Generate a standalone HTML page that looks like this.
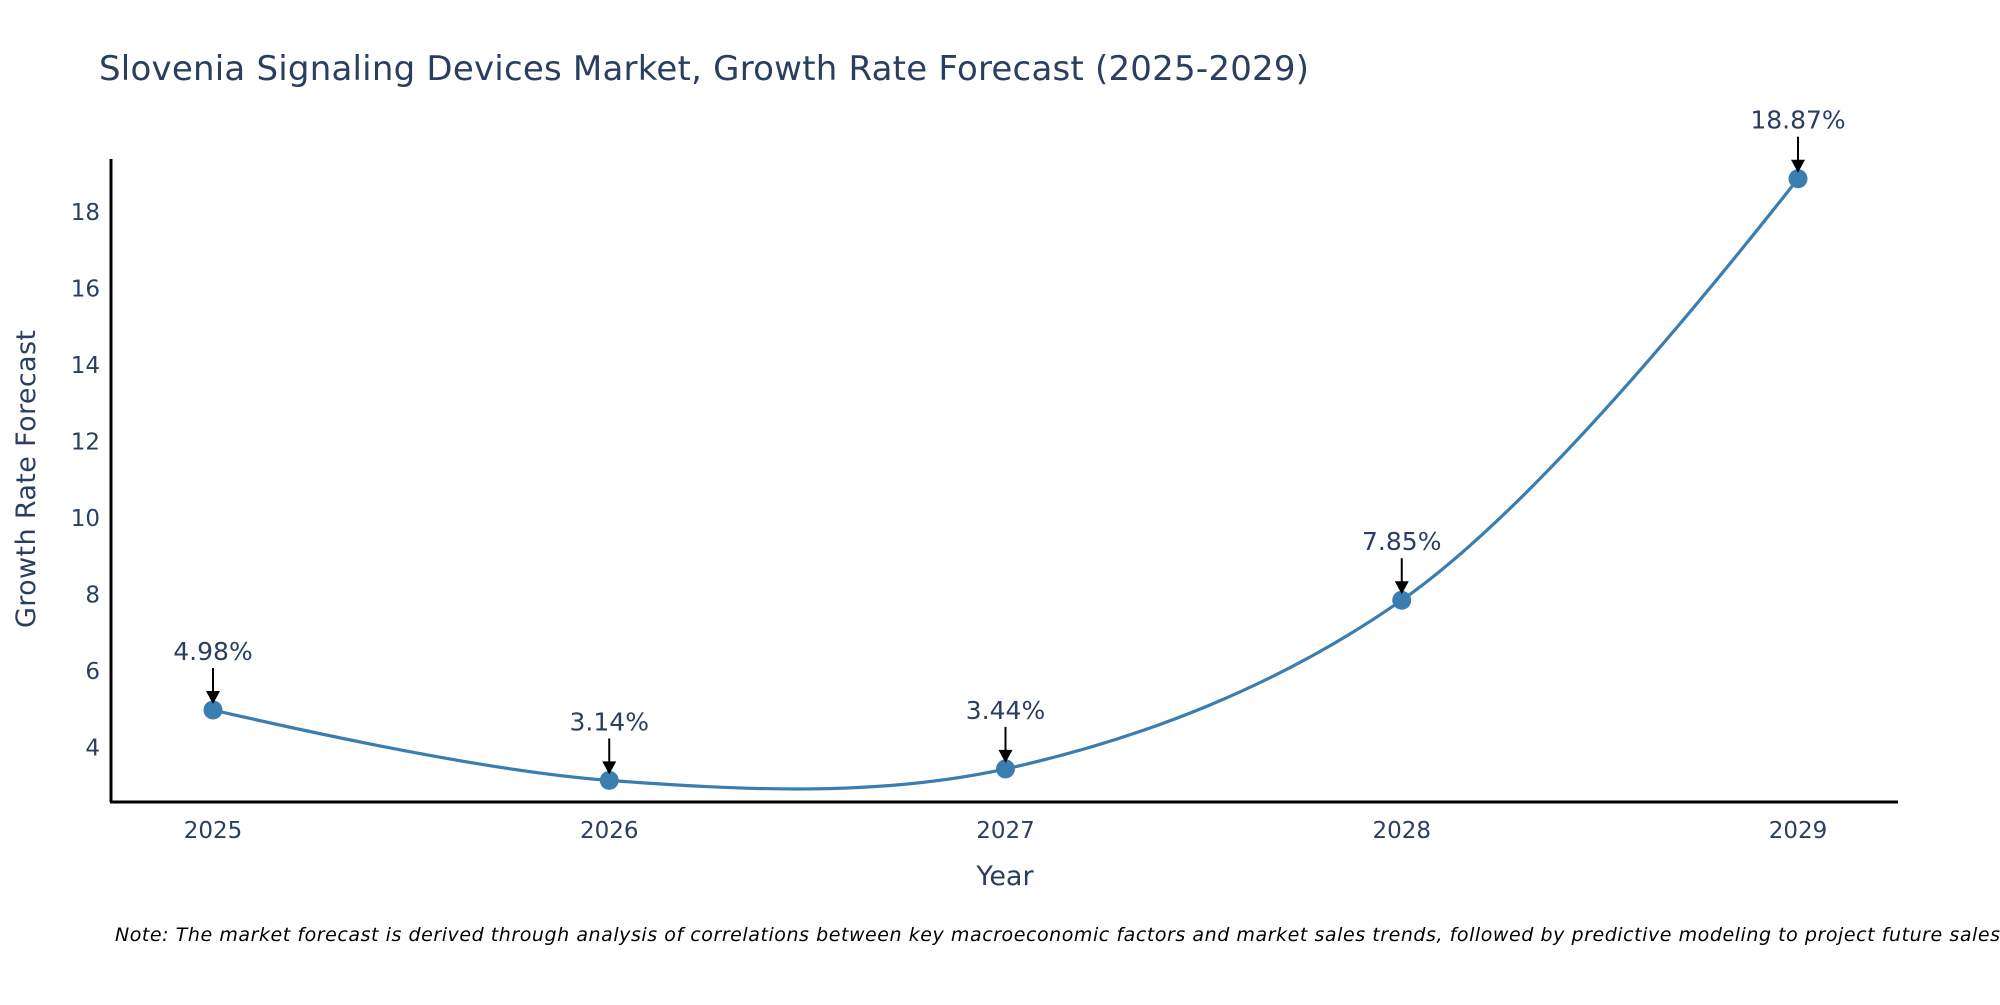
<!DOCTYPE html>
<html><head><meta charset="utf-8"><style>
body{margin:0;background:#fff;}
svg text{font-family:"DejaVu Sans","Liberation Sans",sans-serif;}
</style></head><body>
<svg id="chart" width="2000" height="1000" xmlns="http://www.w3.org/2000/svg">
<text x="99" y="80" font-size="34" fill="#2a3f5f" textLength="1210">Slovenia Signaling Devices Market, Growth Rate Forecast (2025-2029)</text>
<g id="yticks"></g>
<g id="xticks"></g>
<path id="line" fill="none" stroke="#3a7db0" stroke-width="3.2"></path>
<g id="points"></g>
<g id="annots"></g>
<line x1="111" y1="159" x2="111" y2="802" stroke="#000" stroke-width="3"/>
<line x1="110" y1="802" x2="1898" y2="802" stroke="#000" stroke-width="3"/>
<text transform="translate(35,479) rotate(-90)" text-anchor="middle" font-size="27" fill="#2a3f5f" textLength="298">Growth Rate Forecast</text>
<text x="1005" y="885" text-anchor="middle" font-size="27" fill="#2a3f5f">Year</text>
<text x="115" y="941" font-size="19" font-style="italic" fill="#000" textLength="1885">Note: The market forecast is derived through analysis of correlations between key macroeconomic factors and market sales trends, followed by predictive modeling to project future sales</text>
</svg>
<script>
const years = ["2025","2026","2027","2028","2029"];
const values = [4.98, 3.14, 3.44, 7.85, 18.87];
const labels = ["4.98%","3.14%","3.44%","7.85%","18.87%"];
const yTicks = [4,6,8,10,12,14,16,18];

const NS="http://www.w3.org/2000/svg";
function xs(i){return 213 + i*396.25;}
function ys(v){return 900.5 - v*38.25;}
function mk(tag,attrs,parent,text){const e=document.createElementNS(NS,tag);for(const k in attrs)e.setAttribute(k,attrs[k]);if(text!==undefined)e.textContent=text;parent.appendChild(e);return e;}

const yt=document.getElementById('yticks');
yTicks.forEach(t=>{
  const e=mk('text',{x:100,y:ys(t)+8,'text-anchor':'end','font-size':23,fill:'#2a3f5f'},yt,String(t));
  
  
});
const xt=document.getElementById('xticks');
years.forEach((y,i)=>{
  const e=mk('text',{x:xs(i),y:838,'text-anchor':'middle','font-size':23,fill:'#2a3f5f'},xt,y);
  
  
});

// Plotly-style spline
const P=values.map((v,i)=>[xs(i),ys(v)]);
function tangent(a,b,c,s){
  const d1x=a[0]-b[0],d1y=a[1]-b[1],d2x=c[0]-b[0],d2y=c[1]-b[1];
  const d1a=Math.pow(d1x*d1x+d1y*d1y,0.25),d2a=Math.pow(d2x*d2x+d2y*d2y,0.25);
  const nx=(d2a*d2a*d1x-d1a*d1a*d2x)*s,ny=(d2a*d2a*d1y-d1a*d1a*d2y)*s;
  const den1=3*d2a*(d1a+d2a),den2=3*d1a*(d1a+d2a);
  return [[b[0]+nx/den1,b[1]+ny/den1],[b[0]-nx/den2,b[1]-ny/den2]];
}
const T=[];
for(let i=1;i<P.length-1;i++)T.push(tangent(P[i-1],P[i],P[i+1],1));
let d=`M${P[0]} Q${T[0][0]} ${P[1]}`;
for(let i=1;i<P.length-2;i++)d+=` C${T[i-1][1]} ${T[i][0]} ${P[i+1]}`;
d+=` Q${T[T.length-1][1]} ${P[P.length-1]}`;
document.getElementById('line').setAttribute('d',d);

const pts=document.getElementById('points');
const an=document.getElementById('annots');
values.forEach((v,i)=>{
  const x=xs(i),y=ys(v);
  const c=mk('circle',{cx:x,cy:y,r:9.5,fill:'#3a7db0'},pts);
  
  
  const l=mk('line',{x1:x,y1:y-42,x2:x,y2:y-18,stroke:'#000','stroke-width':2},an);
  
  
  const h=mk('polygon',{points:`${x-7},${y-19} ${x+7},${y-19} ${x},${y-6}`,fill:'#000'},an);
  
  
  const t=mk('text',{x:x,y:y-50,'text-anchor':'middle','font-size':25,fill:'#2a3f5f'},an,labels[i]);
  
  
});
</script>
</body></html>
